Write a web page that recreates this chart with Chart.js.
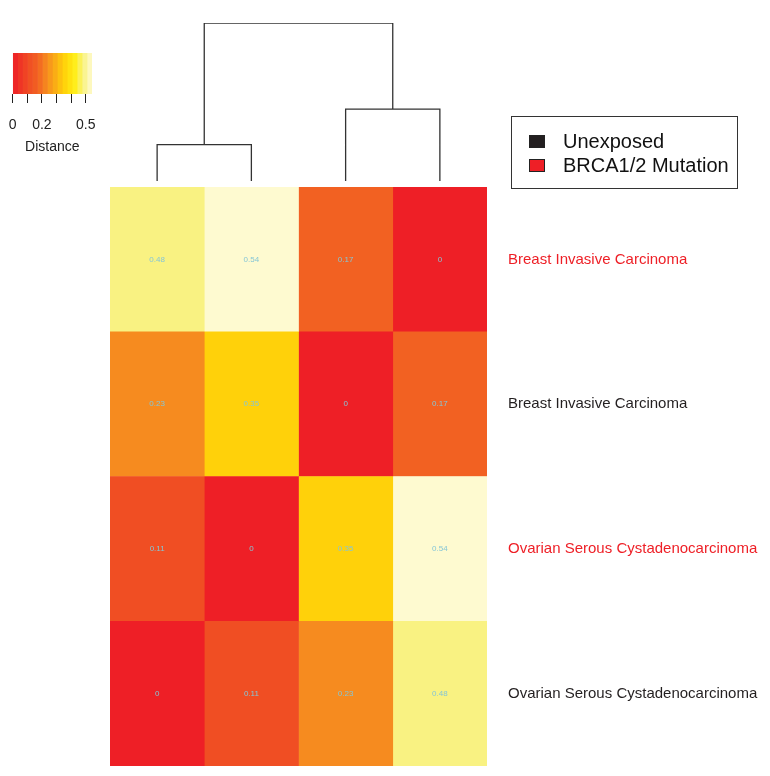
<!DOCTYPE html>
<html>
<head>
<meta charset="utf-8">
<script src="https://cdn.jsdelivr.net/npm/chart.js@4"></script>
<style>
  body { margin: 0; background: #fff; font-family: "Liberation Sans", Arial, sans-serif; }
  #wrap { position: relative; width: 770px; height: 776px; overflow: hidden; }
  #wrap canvas { position: absolute; left: 0; top: 0; }
  #legendBox {
    position: absolute; left: 511px; top: 116px; width: 227px; height: 73px;
    border: 1px solid #333; box-sizing: border-box; font-size: 20px; color: #111;
  }
  .item { position: absolute; left: 17px; height: 24px; line-height: 24px; }
  .item span.sw { position: absolute; left: 0; top: 6px; width: 14px; height: 11px; border: 1px solid #222; }
  .item span.tx { position: absolute; left: 34px; white-space: nowrap; }
</style>
</head>
<body>
<div id="wrap">
  <canvas id="keyChart"></canvas>
  <canvas id="dendroChart"></canvas>
  <canvas id="heatChart"></canvas>
  <div id="legendBox">
    <div class="item" style="top:12px"><span class="sw" style="background:#231f20"></span><span class="tx">Unexposed</span></div>
    <div class="item" style="top:36px"><span class="sw" style="background:#ee1f26"></span><span class="tx">BRCA1/2 Mutation</span></div>
  </div>
</div>
<script>
// 資料
const rowLabels = ['Breast Invasive Carcinoma', 'Breast Invasive Carcinoma',
                   'Ovarian Serous Cystadenocarcinoma', 'Ovarian Serous Cystadenocarcinoma'];
const rowGroups = ['BRCA1/2 Mutation', 'Unexposed', 'BRCA1/2 Mutation', 'Unexposed'];
const col1 = [0.48, 0.23, 0.11, 0];
const col2 = [0.54, 0.35, 0, 0.11];
const col3 = [0.17, 0, 0.35, 0.23];
const col4 = [0, 0.17, 0.54, 0.48];
const columns = [col1, col2, col3, col4];

// 樹狀圖合併高度 (左群, 右群, 根)
const leafPos = [0.5, 1.5, 2.5, 3.5];
const mergeLeft = 0.23;
const mergeRight = 0.455;
const mergeRoot = 1.0;

// 色階
const keyTicks = [0, 0.1, 0.2, 0.3, 0.4, 0.5];
const keyLabels = [0, 0.2, 0.5];
const keyMax = 0.543;
const colorStops = [
  [0, [238, 31, 38]],
  [0.11, [240, 78, 35]],
  [0.17, [242, 97, 34]],
  [0.23, [246, 139, 31]],
  [0.35, [255, 209, 10]],
  [0.42, [255, 238, 20]],
  [0.48, [249, 242, 130]],
  [0.543, [254, 250, 212]]
];

function heatColor(v) {
  for (let i = 1; i < colorStops.length; i++) {
    const [v1, c1] = colorStops[i];
    const [v0, c0] = colorStops[i - 1];
    if (v <= v1 + 1e-9) {
      const t = v1 === v0 ? 0 : Math.max(0, (v - v0) / (v1 - v0));
      const c = c0.map((a, k) => Math.round(a + (c1[k] - a) * t));
      return `rgb(${c[0]},${c[1]},${c[2]})`;
    }
  }
  const c = colorStops[colorStops.length - 1][1];
  return `rgb(${c[0]},${c[1]},${c[2]})`;
}

const W = 770, H = 776;
['keyChart', 'dendroChart', 'heatChart'].forEach(id => {
  const c = document.getElementById(id);
  c.width = W; c.height = H;
  c.style.width = W + 'px'; c.style.height = H + 'px';
});

// 格子數值文字
const cellTextPlugin = {
  id: 'cellText',
  afterDatasetsDraw(chart) {
    const ctx = chart.ctx;
    ctx.save();
    ctx.font = '8px "Liberation Sans", Arial, sans-serif';
    ctx.fillStyle = '#86c6d6';
    ctx.textAlign = 'center';
    ctx.textBaseline = 'middle';
    chart.data.datasets.forEach((ds, di) => {
      const meta = chart.getDatasetMeta(di);
      meta.data.forEach((bar, i) => {
        const p = bar.getProps(['x', 'y', 'base'], true);
        ctx.fillText(String(columns[di][i]), (p.x + p.base) / 2, p.y);
      });
    });
    ctx.restore();
  }
};

// 熱圖
new Chart(document.getElementById('heatChart'), {
  type: 'bar',
  data: {
    labels: rowLabels,
    datasets: columns.map((col, c) => ({
      label: 'col' + (c + 1),
      data: col.map(() => [c, c + 1]),
      backgroundColor: col.map(v => heatColor(v)),
      borderWidth: 0,
      grouped: false,
      barPercentage: 1,
      categoryPercentage: 1
    }))
  },
  options: {
    indexAxis: 'y',
    responsive: false,
    animation: false,
    layout: { padding: { left: 110, top: 187, bottom: 10, right: 0 } },
    plugins: { legend: { display: false }, tooltip: { enabled: false } },
    scales: {
      x: { type: 'linear', min: 0, max: 4, display: false },
      y: {
        position: 'right',
        grid: { display: false, drawTicks: false },
        border: { display: false },
        afterFit: s => { s.width = 283; s.paddingTop = 0; s.paddingBottom = 0; },
        ticks: {
          padding: 21,
          font: { size: 15, family: '"Liberation Sans", Arial, sans-serif' },
          color: ctx => rowGroups[ctx.index] === 'Unexposed' ? '#231f20' : '#ee1f26'
        }
      }
    }
  },
  plugins: [cellTextPlugin]
});

// 樹狀圖
const dendroPts = [];
const seg = pts => { pts.forEach(p => dendroPts.push({ x: p[0], y: p[1] })); dendroPts.push({ x: null, y: null }); };
const leftMid = (leafPos[0] + leafPos[1]) / 2;
const rightMid = (leafPos[2] + leafPos[3]) / 2;
seg([[leafPos[0], 0], [leafPos[0], mergeLeft], [leafPos[1], mergeLeft], [leafPos[1], 0]]);
seg([[leafPos[2], 0], [leafPos[2], mergeRight], [leafPos[3], mergeRight], [leafPos[3], 0]]);
seg([[leftMid, mergeLeft], [leftMid, mergeRoot], [rightMid, mergeRoot], [rightMid, mergeRight]]);

new Chart(document.getElementById('dendroChart'), {
  type: 'scatter',
  data: {
    datasets: [{
      data: dendroPts,
      showLine: true,
      spanGaps: false,
      borderColor: '#333',
      borderWidth: 1.3,
      pointRadius: 0
    }]
  },
  options: {
    responsive: false,
    animation: false,
    layout: { padding: { left: 110, right: 283, top: 23, bottom: H - 181 } },
    plugins: { legend: { display: false }, tooltip: { enabled: false } },
    scales: {
      x: { type: 'linear', min: 0, max: 4, display: false },
      y: { type: 'linear', min: 0, max: mergeRoot, display: false }
    }
  }
});

// 色階圖例
const keyBins = [];
const nBins = 16;
for (let i = 0; i < nBins; i++) keyBins.push([keyMax * i / nBins, keyMax * (i + 1) / nBins]);

new Chart(document.getElementById('keyChart'), {
  type: 'bar',
  data: {
    labels: ['key'],
    datasets: keyBins.map(b => ({
      data: [b],
      backgroundColor: heatColor((b[0] + b[1]) / 2),
      borderWidth: 0,
      grouped: false,
      barPercentage: 1,
      categoryPercentage: 1
    }))
  },
  options: {
    indexAxis: 'y',
    responsive: false,
    animation: false,
    layout: { padding: { left: 12.7, right: W - 92, top: 53, bottom: 0 } },
    plugins: { legend: { display: false }, tooltip: { enabled: false } },
    scales: {
      x: {
        type: 'linear', min: 0, max: keyMax,
        afterBuildTicks: s => { s.ticks = keyTicks.map(v => ({ value: v })); },
        afterFit: s => { s.height = H - 94; s.paddingLeft = 0; s.paddingRight = 0; },
        grid: { drawOnChartArea: false, drawTicks: true, tickLength: 9, color: '#222', lineWidth: 1 },
        border: { display: false },
        ticks: {
          padding: 14,
          maxRotation: 0,
          autoSkip: false,
          color: '#222',
          font: { size: 14, family: '"Liberation Sans", Arial, sans-serif' },
          callback: v => keyLabels.includes(Math.round(v * 10) / 10) ? String(v) : ''
        }
      },
      y: { display: false }
    }
  },
  plugins: [{
    id: 'keyTitle',
    afterDraw(chart) {
      const a = chart.chartArea, ctx = chart.ctx;
      ctx.save();
      ctx.font = '14px "Liberation Sans", Arial, sans-serif';
      ctx.fillStyle = '#222';
      ctx.textAlign = 'center';
      ctx.textBaseline = 'middle';
      ctx.fillText('Distance', (a.left + a.right) / 2, a.bottom + 53);
      ctx.restore();
    }
  }]
});
</script>
</body>
</html>
